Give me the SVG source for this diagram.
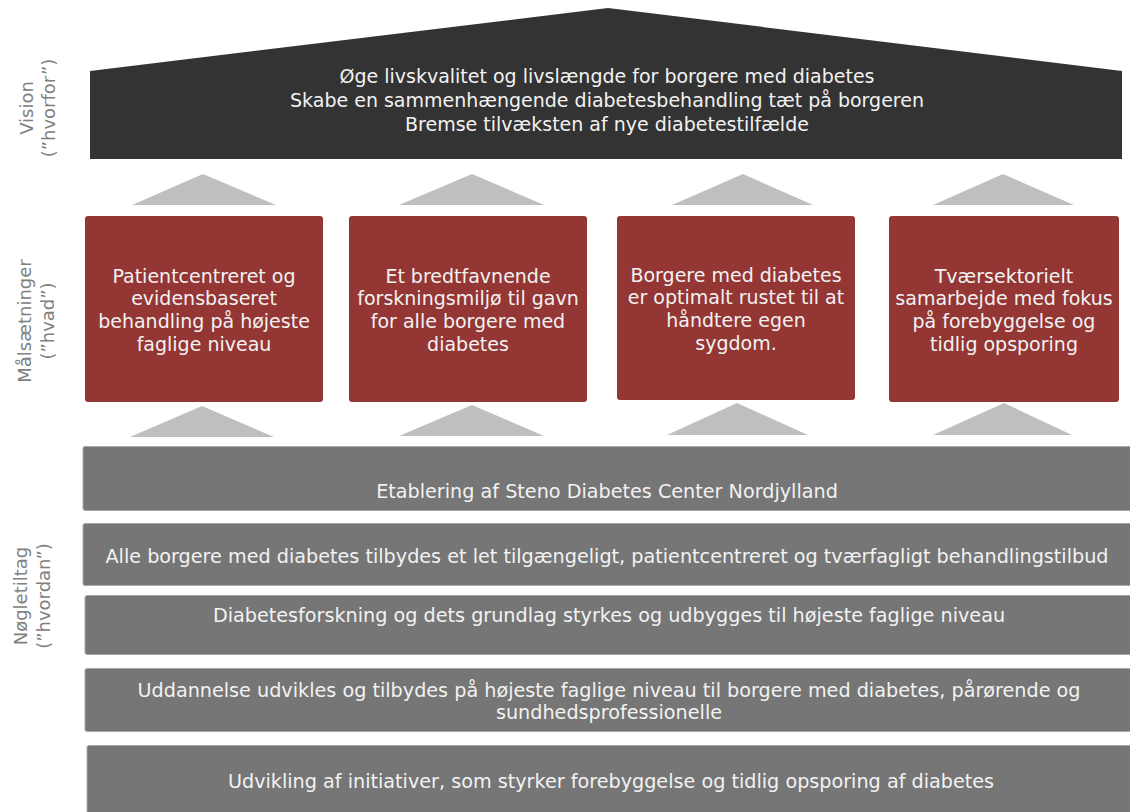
<svg xmlns="http://www.w3.org/2000/svg" width="1130" height="812" viewBox="0 0 1130 812">
<style>
text{font-family:"DejaVu Sans","Verdana",sans-serif;}
.roof{fill:#333333;}
.goal{fill:#943634;}
.bar{fill:#767676;stroke:#a8a8a8;stroke-width:1;}
.arr{fill:#bfbfbf;}
.wt{fill:#f2f2f2;text-anchor:middle;}
.t19{font-size:19px;}
.t18{font-size:19.2px;}
.lab{fill:#808080;font-size:18px;text-anchor:middle;}
</style>
<rect width="1130" height="812" fill="#ffffff"/>
<g id="labels">
<text class="lab" transform="translate(33,108) rotate(-90)">Vision</text>
<text class="lab" transform="translate(55,108) rotate(-90)">(”hvorfor”)</text>
<text class="lab" transform="translate(31,321) rotate(-90)">Målsætninger</text>
<text class="lab" transform="translate(54,321) rotate(-90)">(”hvad”)</text>
<text class="lab" transform="translate(27,596) rotate(-90)">Nøgletiltag</text>
<text class="lab" transform="translate(50,596) rotate(-90)">(”hvordan”)</text>
</g>
<g id="vision">
<polygon class="roof" points="90,71 608,8 1122,71 1122,159 90,159"/>
<text class="wt t19" x="607" y="83">Øge livskvalitet og livslængde for borgere med diabetes</text>
<text class="wt t19" x="607" y="107">Skabe en sammenhængende diabetesbehandling tæt på borgeren</text>
<text class="wt t19" x="607" y="131">Bremse tilvæksten af nye diabetestilfælde</text>
</g>
<g id="connectors">
<polygon class="arr" points="132,205 203,174 276,205"/>
<polygon class="arr" points="399,205 472,174 544,205"/>
<polygon class="arr" points="672,205 743,174 813,205"/>
<polygon class="arr" points="933,205 1003,174 1074,205"/>
<polygon class="arr" points="130,437 202,406 274,437"/>
<polygon class="arr" points="399,436 472,405 544,436"/>
<polygon class="arr" points="667,435 737,403 808,435"/>
<polygon class="arr" points="933,435 1004,403 1072,435"/>
</g>
<g id="goal1">
<rect class="goal" x="85" y="216" width="238" height="186" rx="3"/>
<text class="wt t19" x="204" y="282.5">Patientcentreret og</text>
<text class="wt t19" x="204" y="305.3">evidensbaseret</text>
<text class="wt t19" x="204" y="328">behandling på højeste</text>
<text class="wt t19" x="204" y="350.8">faglige niveau</text>
</g>
<g id="goal2">
<rect class="goal" x="349" y="216" width="238" height="186" rx="3"/>
<text class="wt t19" x="468" y="282.5">Et bredtfavnende</text>
<text class="wt t19" x="468" y="305.3">forskningsmiljø til gavn</text>
<text class="wt t19" x="468" y="328">for alle borgere med</text>
<text class="wt t19" x="468" y="350.8">diabetes</text>
</g>
<g id="goal3">
<rect class="goal" x="617" y="216" width="238" height="184" rx="3"/>
<text class="wt t19" x="736" y="281.5">Borgere med diabetes</text>
<text class="wt t19" x="736" y="304.3">er optimalt rustet til at</text>
<text class="wt t19" x="736" y="327">håndtere egen</text>
<text class="wt t19" x="736" y="349.8">sygdom.</text>
</g>
<g id="goal4">
<rect class="goal" x="889" y="216" width="230" height="186" rx="3"/>
<text class="wt t19" x="1004" y="282.5">Tværsektorielt</text>
<text class="wt t19" x="1004" y="305.3">samarbejde med fokus</text>
<text class="wt t19" x="1004" y="328">på forebyggelse og</text>
<text class="wt t19" x="1004" y="350.8">tidlig opsporing</text>
</g>
<g id="bar1">
<rect class="bar" x="83" y="446.5" width="1060" height="64" rx="2"/>
<text class="wt t18" x="607" y="498">Etablering af Steno Diabetes Center Nordjylland</text>
</g>
<g id="bar2">
<rect class="bar" x="83" y="523.5" width="1060" height="62" rx="2"/>
<text class="wt t18" x="607" y="563">Alle borgere med diabetes tilbydes et let tilgængeligt, patientcentreret og tværfagligt behandlingstilbud</text>
</g>
<g id="bar3">
<rect class="bar" x="85" y="595.5" width="1060" height="59" rx="2"/>
<text class="wt t18" x="609" y="621.5">Diabetesforskning og dets grundlag styrkes og udbygges til højeste faglige niveau</text>
</g>
<g id="bar4">
<rect class="bar" x="85" y="668.5" width="1060" height="63" rx="2"/>
<text class="wt t18" x="609" y="696.5">Uddannelse udvikles og tilbydes på højeste faglige niveau til borgere med diabetes, pårørende og</text>
<text class="wt t18" x="609" y="718.5">sundhedsprofessionelle</text>
</g>
<g id="bar5">
<rect class="bar" x="87" y="745.5" width="1060" height="80" rx="2"/>
<text class="wt t18" x="611" y="788">Udvikling af initiativer, som styrker forebyggelse og tidlig opsporing af diabetes</text>
</g>
</svg>
